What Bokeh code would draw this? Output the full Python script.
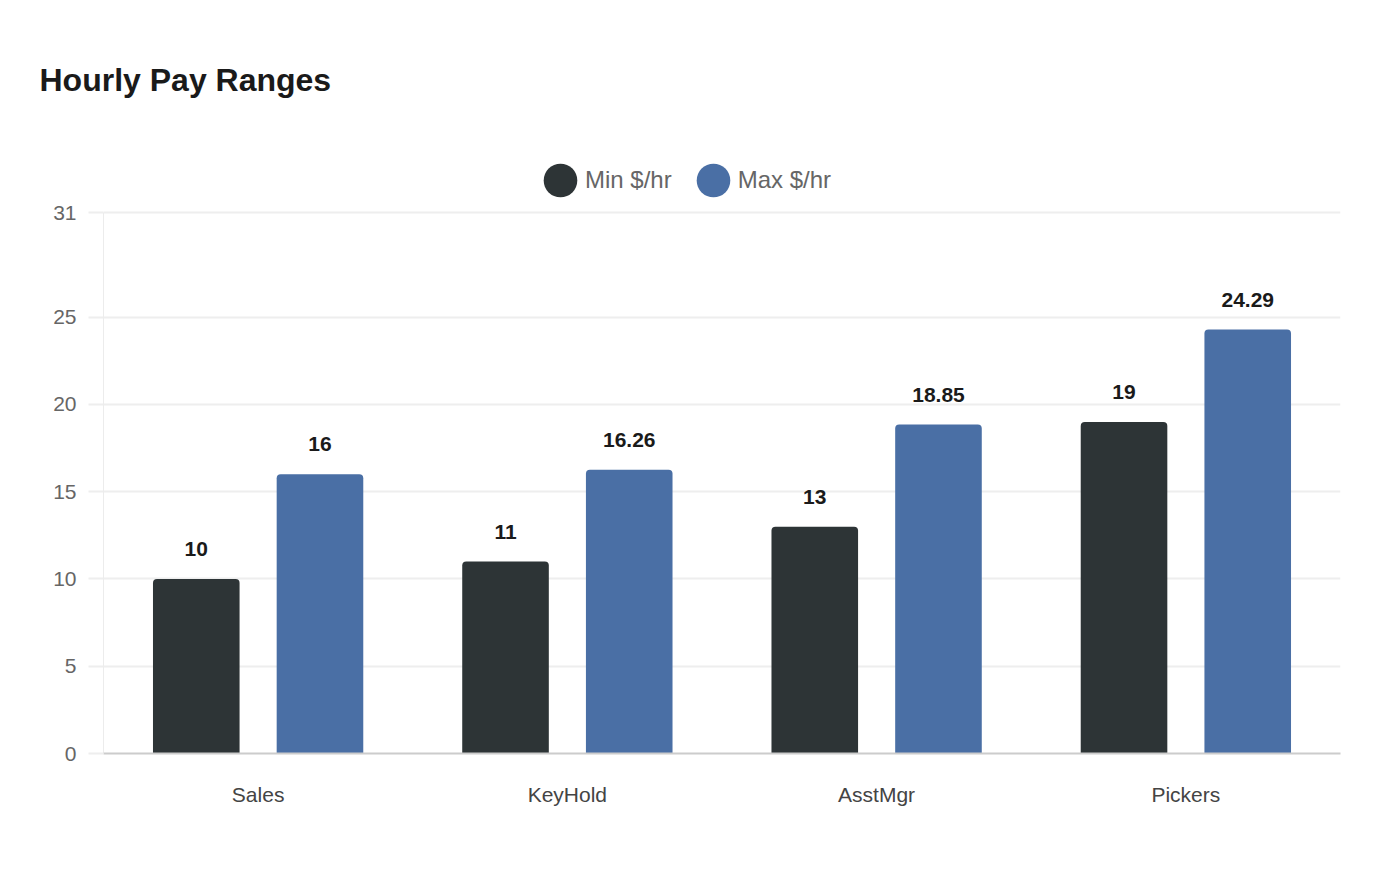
from bokeh.plotting import figure
from bokeh.models import ColumnDataSource, FixedTicker, Legend, LegendItem
from bokeh.core.properties import value
from bokeh.transform import dodge
from bokeh.embed import file_html
from bokeh.resources import INLINE

categories = ["Sales", "KeyHold", "AsstMgr", "Pickers"]
min_pay = [10, 11, 13, 19]
max_pay = [16, 16.26, 18.85, 24.29]
min_labels = ["10", "11", "13", "19"]
max_labels = ["16", "16.26", "18.85", "24.29"]
y_ticks = [0, 5, 10, 15, 20, 25, 31]
series_names = ["Min $/hr", "Max $/hr"]

FONT = "Liberation Sans"
C_MIN = "#2d3436"
C_MAX = "#4a6fa5"

# frame spans 150..753 px; axis top (31) sits at 212 px -> range end above 31 leaves room for legend
Y_END = 31 * 603 / 541

src = ColumnDataSource(dict(cat=categories, mn=min_pay, mx=max_pay,
                            mnl=min_labels, mxl=max_labels))

p = figure(x_range=categories, y_range=(0, Y_END), width=1384, height=864,
           output_backend="svg", toolbar_location=None,
           min_border_left=103, min_border_right=44, min_border_top=150,
           min_border_bottom=111)
p.outline_line_color = None
p.background_fill_color = "white"

p.title.text = "Hourly Pay Ranges"
p.title.text_font = FONT
p.title.text_font_size = "32px"
p.title.text_font_style = "bold"
p.title.text_color = "#1a1a1a"
p.title.align = "left"
p.title.offset = -64
p.title.standoff = 106

p.x_range.range_padding = 0

r_min = p.vbar(x=dodge("cat", -0.2, range=p.x_range), top="mn", width=0.28,
               source=src, fill_color=C_MIN, line_color=None,
               border_radius=(4, 4, 0, 0))
r_max = p.vbar(x=dodge("cat", 0.2, range=p.x_range), top="mx", width=0.28,
               source=src, fill_color=C_MAX, line_color=None,
               border_radius=(4, 4, 0, 0))

p.text(x=dodge("cat", -0.2, range=p.x_range), y="mn", text="mnl", source=src,
       text_align="center", text_baseline="alphabetic", y_offset=-30,
       text_font=value(FONT), text_font_size="21px", text_font_style="bold",
       text_color="#1a1a1a")
p.text(x=dodge("cat", 0.2, range=p.x_range), y="mx", text="mxl", source=src,
       text_align="center", text_baseline="alphabetic", y_offset=-30,
       text_font=value(FONT), text_font_size="21px", text_font_style="bold",
       text_color="#1a1a1a")

# vertical axis line only up to the top tick
p.segment(x0=[0], y0=[y_ticks[0]], x1=[0], y1=[y_ticks[-1]],
          line_color="#d9d9d9", line_width=1)

# legend markers (placed below the visible range so only the legend shows them)
d_min = p.ellipse(x=["Sales"], y=[-100], width=34, height=34,
                  width_units="screen", height_units="screen",
                  fill_color=C_MIN, line_color=None)
d_max = p.ellipse(x=["Sales"], y=[-100], width=34, height=34,
                  width_units="screen", height_units="screen",
                  fill_color=C_MAX, line_color=None)
legend = Legend(items=[LegendItem(label=series_names[0], renderers=[d_min]),
                       LegendItem(label=series_names[1], renderers=[d_max])],
                orientation="horizontal", location=(436, 552),
                glyph_width=42, glyph_height=42, label_standoff=4,
                spacing=20, padding=0, margin=0,
                border_line_color=None, background_fill_alpha=0,
                label_text_font=FONT, label_text_font_size="24px",
                label_text_color="#666666", label_text_baseline="middle")
p.add_layout(legend, "center")

# y axis
p.yaxis.ticker = FixedTicker(ticks=y_ticks)
p.yaxis.axis_line_color = None
p.yaxis.major_tick_out = 15
p.yaxis.major_tick_in = 0
p.yaxis.major_tick_line_color = "#eeeeee"
p.yaxis.major_tick_line_width = 2
p.yaxis.minor_tick_line_color = None
p.yaxis.major_label_standoff = 12
p.yaxis.major_label_text_font = FONT
p.yaxis.major_label_text_font_size = "21px"
p.yaxis.major_label_text_color = "#666666"

# x axis
p.xaxis.axis_line_color = "#cccccc"
p.xaxis.axis_line_width = 2
p.xaxis.major_tick_line_color = None
p.xaxis.minor_tick_line_color = None
p.xaxis.major_label_standoff = 23
p.xaxis.major_label_text_font = FONT
p.xaxis.major_label_text_font_size = "21px"
p.xaxis.major_label_text_color = "#444444"

p.xgrid.grid_line_color = None
p.ygrid.grid_line_color = "#eeeeee"
p.ygrid.grid_line_width = 2

open("out.html", "w").write(file_html(p, INLINE))
